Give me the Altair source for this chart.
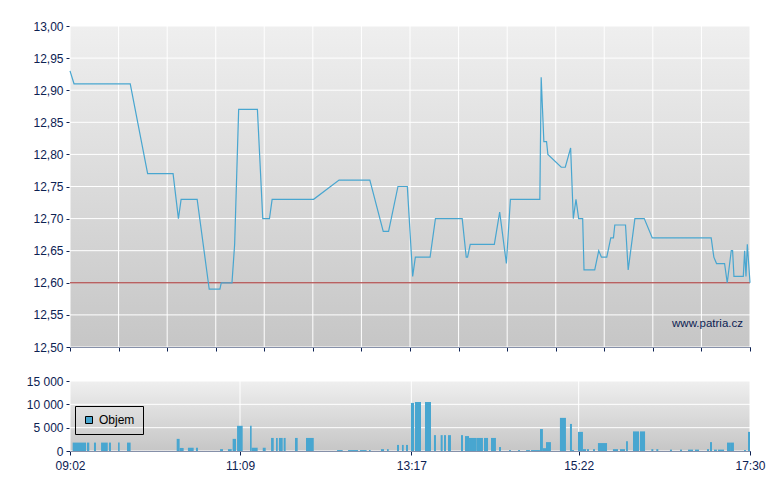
import altair as alt
import pandas as pd

# price ticks (time, CZK)
price_time = ["09:02", "09:05", "09:47", "10:00", "10:19", "10:23", "10:25", "10:37", "10:46", "10:54",
              "10:55", "11:03", "11:05", "11:08", "11:22", "11:26", "11:31", "11:33", "12:04", "12:23",
              "12:46", "12:56", "13:00", "13:07", "13:14", "13:18", "13:20", "13:31", "13:35", "13:55",
              "13:58", "13:59", "14:01", "14:19", "14:23", "14:28", "14:31", "14:53", "14:54", "14:56",
              "14:58", "14:59", "15:09", "15:12", "15:16", "15:18", "15:20", "15:22", "15:25", "15:26",
              "15:34", "15:37", "15:39", "15:43", "15:46", "15:48", "15:49", "15:57", "15:59", "16:04",
              "16:11", "16:17", "17:01", "17:03", "17:05", "17:11", "17:13", "17:16", "17:17", "17:18",
              "17:25", "17:26", "17:27", "17:28", "17:30"]
price_value = [12.93, 12.91, 12.91, 12.77, 12.77, 12.70, 12.73, 12.73, 12.59, 12.59,
               12.60, 12.60, 12.66, 12.87, 12.87, 12.70, 12.70, 12.73, 12.73, 12.76,
               12.76, 12.68, 12.68, 12.75, 12.75, 12.61, 12.64, 12.64, 12.70, 12.70,
               12.64, 12.64, 12.66, 12.66, 12.71, 12.63, 12.73, 12.73, 12.92, 12.82,
               12.82, 12.80, 12.78, 12.78, 12.81, 12.70, 12.73, 12.70, 12.70, 12.62,
               12.62, 12.65, 12.64, 12.64, 12.67, 12.67, 12.69, 12.69, 12.62, 12.70,
               12.70, 12.67, 12.67, 12.64, 12.63, 12.63, 12.60, 12.65, 12.65, 12.61,
               12.61, 12.65, 12.61, 12.66, 12.60]
prev_close = 12.60

# volume blocks (minutes after midnight)
vol_start = [544.0, 554.7, 559.9, 565.2, 571.1, 577.9, 584.6, 621.7, 623.9, 630.1, 636.1, 654.1, 660.0,
             663.5, 666.8, 676.5, 677.7, 686.0, 692.2, 695.9, 698.1, 701.6, 710.1, 718.3, 741.5, 749.7,
             758.6, 765.4, 774.3, 778.8, 786.3, 790.0, 793.0, 796.7, 799.7, 807.2, 813.9, 818.9, 821.4,
             824.4, 834.1, 837.1, 840.1, 845.8, 851.3, 856.5, 862.5, 870.0, 876.7, 882.7, 886.4, 893.1,
             895.3, 897.6, 908.0, 915.5, 917.0, 921.5, 925.2, 928.2, 932.7, 936.4, 947.6, 952.9, 957.4,
             962.6, 967.8, 976.3, 980.0, 990.2, 997.7, 1003.7, 1008.9, 1017.9, 1020.1, 1023.1, 1026.1,
             1032.8, 1035.1, 1045.5, 1048.5]
vol_end = [554.0, 556.4, 561.4, 570.2, 572.6, 579.1, 587.3, 623.9, 626.9, 634.4, 637.6, 656.3, 662.8,
           666.0, 671.0, 677.7, 682.2, 688.2, 694.2, 697.2, 700.9, 703.1, 712.1, 724.1, 745.7, 757.2,
           763.6, 766.6, 776.6, 780.1, 787.8, 791.3, 794.5, 799.0, 804.2, 811.7, 815.4, 820.4, 822.9,
           826.6, 835.6, 840.1, 845.8, 850.5, 854.3, 860.2, 864.0, 871.4, 878.2, 885.6, 893.1, 895.3,
           897.6, 901.3, 912.5, 917.0, 918.5, 925.2, 927.5, 929.7, 934.2, 943.2, 951.4, 956.6, 958.8,
           967.1, 971.6, 977.8, 981.5, 991.7, 999.2, 1007.4, 1011.9, 1019.4, 1021.6, 1025.3, 1030.6,
           1035.1, 1038.0, 1047.0, 1050.0]
vol_value = [1800, 1800, 1800, 1800, 1800, 1800, 1800, 2600, 650, 700, 700, 400, 400,
             2600, 5400, 5400, 700, 700, 2800, 2800, 2800, 2800, 2800, 2800, 200, 200,
             200, 200, 400, 400, 1300, 1300, 1300, 10300, 10500, 10500, 3400, 3400, 3400,
             3400, 3400, 3200, 2800, 2800, 2800, 2800, 850, 200, 200, 200, 200, 4700,
             600, 1900, 7100, 5800, 200, 4100, 400, 400, 400, 1700, 400, 400, 2100,
             4200, 4200, 400, 400, 300, 300, 300, 300, 400, 1900, 300, 300,
             1800, 1800, 200, 4100]

# axis ticks
t_start, t_end = 542, 1050
top_x_ticks = [542, 578.3, 614.6, 650.9, 687.1, 723.4, 759.7, 796, 832.3, 868.6,
               904.9, 941.1, 977.4, 1013.7, 1050]
top_y_ticks = [12.50, 12.55, 12.60, 12.65, 12.70, 12.75, 12.80, 12.85, 12.90, 12.95, 13.00]
bot_x_ticks = [542, 669, 797, 922, 1050]
bot_y_ticks = [0, 5000, 10000, 15000]

BLUE = "#48a6d0"
NAVY = "#0c2152"
W, H_TOP, H_BOT = 680, 321, 70


def to_min(t):
    h, m = t.split(":")
    return int(h) * 60 + int(m)


price_df = pd.DataFrame({"m": [to_min(t) for t in price_time], "v": price_value})
vol_df = pd.DataFrame({"s": vol_start, "e": vol_end, "v": vol_value})
vol_df["series"] = "Objem"

x_scale = alt.Scale(domain=[t_start, t_end], nice=False, zero=False)


def backdrop(h):
    grad = alt.Gradient(
        gradient="linear",
        stops=[alt.GradientStop(color="#efefef", offset=0),
               alt.GradientStop(color="#c6c6c6", offset=1)],
        x1=0, x2=0, y1=0, y2=1,
    )
    return (
        alt.Chart(pd.DataFrame({"a": [0]}))
        .mark_rect(color=grad)
        .encode(x=alt.value(0), x2=alt.value(W), y=alt.value(0), y2=alt.value(h))
    )


# ---- price panel
top_x = alt.X("m:Q", scale=x_scale, title=None,
              axis=alt.Axis(values=top_x_ticks, labels=False, grid=False))
top_y = alt.Y("v:Q", scale=alt.Scale(domain=[12.5, 13.0], nice=False, zero=False), title=None,
              axis=alt.Axis(values=top_y_ticks, grid=False, minExtent=57,
                            labelExpr="replace(format(datum.value, '.2f'), '.', ',')"))

top_vgrid = (alt.Chart(pd.DataFrame({"m": top_x_ticks}))
             .mark_rule(color="white", strokeWidth=1).encode(x=top_x))
top_hgrid = (alt.Chart(pd.DataFrame({"v": top_y_ticks}))
             .mark_rule(color="white", strokeWidth=1).encode(y=top_y))
close_rule = (alt.Chart(pd.DataFrame({"v": [prev_close]}))
              .mark_rule(color="#a02424", strokeWidth=1).encode(y=top_y))
price_line = (alt.Chart(price_df)
              .mark_line(color=BLUE, strokeWidth=1.2, interpolate="linear")
              .encode(x=top_x, y=top_y))
watermark = (alt.Chart(pd.DataFrame({"t": ["www.patria.cz"]}))
             .mark_text(align="right", baseline="middle", fontSize=11.5, color=NAVY)
             .encode(x=alt.value(673), y=alt.value(298), text="t:N"))

top = alt.layer(backdrop(H_TOP), top_vgrid, top_hgrid, close_rule, price_line, watermark).properties(
    width=W, height=H_TOP)

# ---- volume panel
bot_x = alt.X("s:Q", scale=x_scale, title=None,
              axis=alt.Axis(values=bot_x_ticks, grid=False, labelFlush=False, labelPadding=5,
                            labelExpr="timeFormat(datetime(2020, 0, 1, 0, datum.value), '%H:%M')"))
bot_y = alt.Y("v:Q", scale=alt.Scale(domain=[0, 15000], nice=False), title=None,
              axis=alt.Axis(values=bot_y_ticks, grid=False, minExtent=57,
                            labelExpr="replace(format(datum.value, ','), ',', ' ')"))

bot_vgrid = (alt.Chart(pd.DataFrame({"s": bot_x_ticks}))
             .mark_rule(color="white", strokeWidth=1).encode(x=bot_x))
bot_hgrid = (alt.Chart(pd.DataFrame({"v": bot_y_ticks}))
             .mark_rule(color="white", strokeWidth=1).encode(y=bot_y))
bars = alt.Chart(vol_df).mark_bar().encode(
    x=bot_x,
    x2="e:Q",
    y=bot_y,
    y2=alt.datum(0),
    color=alt.Color(
        "series:N",
        scale=alt.Scale(domain=["Objem"], range=[BLUE]),
        legend=alt.Legend(
            title=None, orient="none", legendX=5, legendY=380,
            strokeColor="black", padding=8, symbolType="square", symbolSize=49,
            symbolStrokeColor="black", symbolStrokeWidth=1, labelFontSize=12,
            labelColor="black", labelOffset=4,
        ),
    ),
)

bottom = alt.layer(backdrop(H_BOT), bot_vgrid, bot_hgrid, bars).properties(width=W, height=H_BOT)

chart = (
    alt.vconcat(top, bottom, spacing=34, bounds="flush")
    .properties(padding={"left": 5, "top": 12, "right": 5, "bottom": 5})
    .configure(font="Liberation Sans")
    .configure_view(strokeWidth=0)
    .configure_axis(
        domainColor=NAVY, tickColor=NAVY, labelColor=NAVY, labelFontSize=12,
        tickSize=4, labelPadding=3, domainWidth=1,
    )
)

chart.save("out.html", embed_options={"renderer": "svg", "actions": False})
